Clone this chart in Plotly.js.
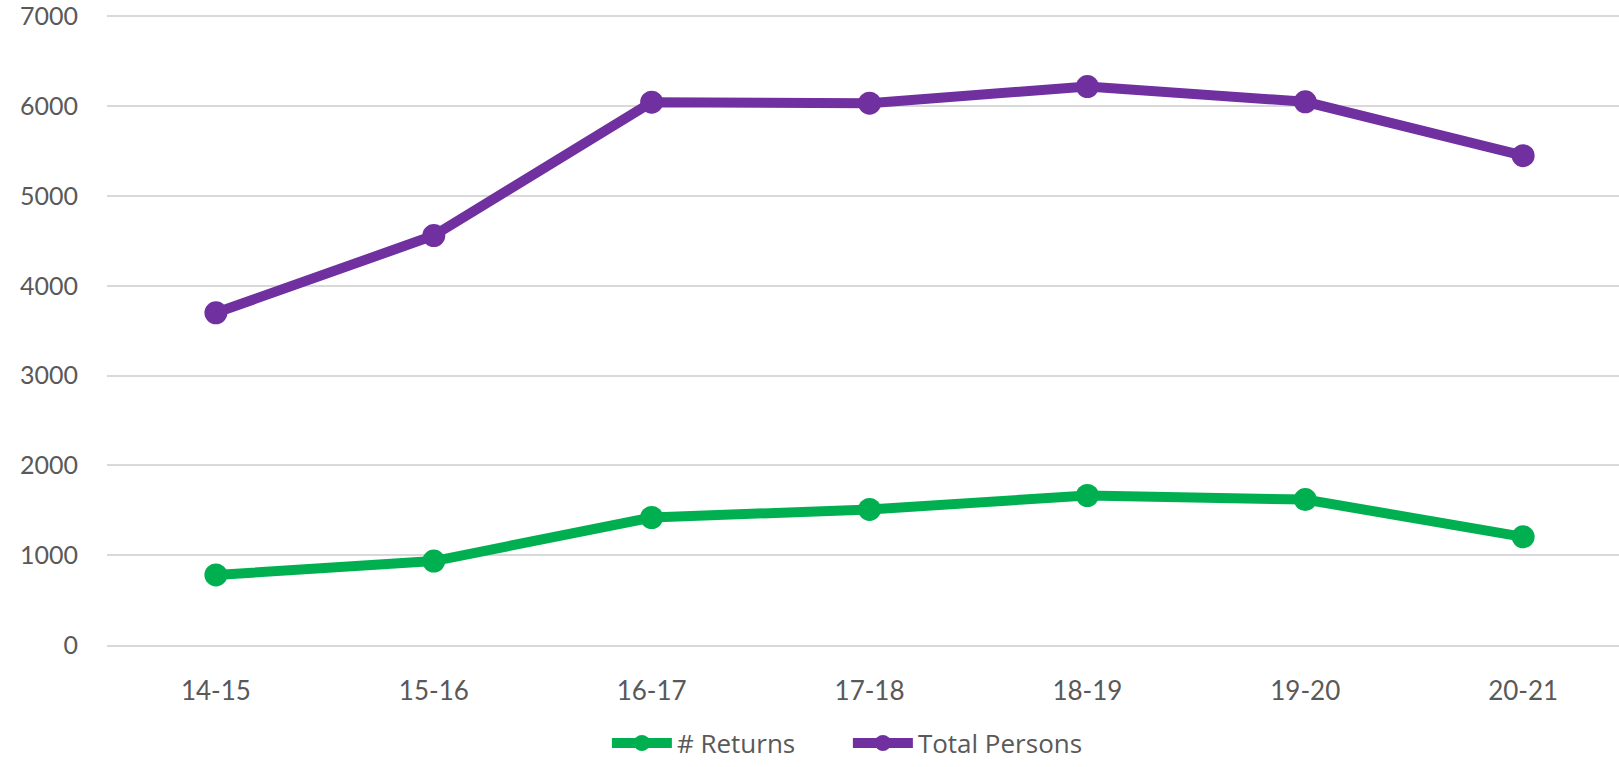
<!DOCTYPE html>
<html>
<head>
<meta charset="utf-8">
<script src="https://cdn.plot.ly/plotly-3.0.1.min.js"></script>
<style>
  html, body { margin: 0; padding: 0; background: #fff; }
  #chart { width: 1619px; height: 767px; }
</style>
</head>
<body>
<div id="chart"></div>
<script>
// season labels along the x axis
var seasons = ['14-15', '15-16', '16-17', '17-18', '18-19', '19-20', '20-21'];

// series values
var returnsCount = [780, 935, 1420, 1510, 1665, 1620, 1205];
var totalPersons = [3700, 4560, 6045, 6035, 6220, 6050, 5450];

// y axis tick values
var yTicks = [0, 1000, 2000, 3000, 4000, 5000, 6000, 7000];

var green = '#00B050';
var purple = '#7030A0';

function lineTrace(name, values, color) {
  return {
    x: seasons,
    y: values,
    name: name,
    type: 'scatter',
    mode: 'lines+markers',
    line: { color: color, width: 10 },
    marker: { color: color, size: 23 }
  };
}

var data = [
  lineTrace('# Returns', returnsCount, green),
  lineTrace('Total Persons', totalPersons, purple)
];

var layout = {
  width: 1619,
  height: 767,
  margin: { l: 107, r: 0, t: 12, b: 122 },
  paper_bgcolor: '#fff',
  plot_bgcolor: '#fff',
  font: { family: 'Lato, "Open Sans", sans-serif', size: 25, color: '#595959' },
  showlegend: true,
  hovermode: false,
  xaxis: {
    type: 'category',
    range: [-0.5, 6.44],
    showgrid: false,
    showline: true,
    linecolor: '#d9d9d9',
    linewidth: 2,
    ticks: '',
    ticklabelstandoff: 22,
    tickfont: { size: 26, color: '#595959' }
  },
  yaxis: {
    range: [0, 7050],
    tickmode: 'array',
    tickvals: yTicks,
    ticktext: yTicks.map(String),
    ticklabeloverflow: 'allow',
    showgrid: true,
    gridcolor: '#d9d9d9',
    gridwidth: 2,
    zeroline: false,
    ticks: '',
    ticklabelstandoff: 28,
    tickfont: { size: 25, color: '#595959' }
  },
  legend: {
    orientation: 'h',
    x: 0.49,
    xanchor: 'center',
    y: -0.155,
    yanchor: 'middle',
    itemwidth: 60,
    entrywidth: 166,
    font: { family: '"Open Sans", sans-serif', size: 26, color: '#595959' }
  }
};

Plotly.newPlot('chart', data, layout, { staticPlot: true });
</script>
</body>
</html>
